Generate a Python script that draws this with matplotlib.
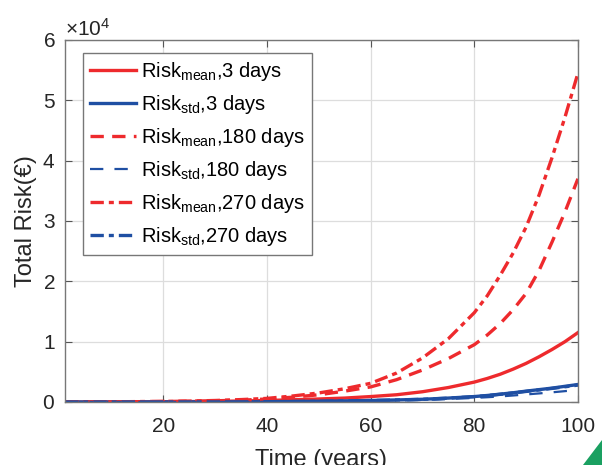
""" Total risk over time """

import matplotlib

matplotlib.use("Agg")
import matplotlib.pyplot as plt
from matplotlib.patches import Polygon
from matplotlib.ticker import ScalarFormatter

plt.rcParams["font.family"] = ["Liberation Sans", "DejaVu Sans"]
plt.rcParams["mathtext.fontset"] = "custom"
plt.rcParams["mathtext.rm"] = "Liberation Sans"
plt.rcParams["mathtext.it"] = "Liberation Sans:italic"

# time in years
years = [1, 10, 20, 25, 30, 35, 40, 45, 50, 55, 60, 65, 70, 75, 80,
         82.5, 85, 87.5, 90, 92.5, 95, 97.5, 100]

# total risk in euros
mean_3 = [0, 10, 50, 70, 100, 170, 250, 370, 500, 650, 900, 1200, 1700, 2400,
          3300, 3900, 4600, 5450, 6400, 7500, 8700, 10000, 11500]
std_3 = [0, 0, 5, 10, 15, 30, 50, 80, 120, 180, 250, 340, 450, 650,
         900, 1080, 1300, 1530, 1800, 2050, 2300, 2600, 2900]
mean_180 = [0, 20, 80, 130, 200, 300, 500, 800, 1200, 1800, 2500, 3700, 5300, 7200,
            9500, 11100, 13000, 15300, 18000, 21800, 26500, 31500, 37000]
std_180 = [0, 0, 3, 6, 10, 20, 35, 55, 85, 130, 180, 250, 330, 480,
           680, 790, 920, 1080, 1250, 1420, 1600, 1800, 2000]
mean_270 = [0, 30, 100, 150, 250, 400, 600, 1000, 1500, 2200, 3100, 4800, 7300, 10500,
            14800, 17600, 21000, 24700, 29000, 34300, 40500, 47200, 54500]
std_270 = [0, 0, 5, 9, 14, 28, 48, 78, 115, 175, 240, 330, 440, 630,
           880, 1060, 1270, 1500, 1750, 2000, 2250, 2520, 2800]

RED = "#EE2A2D"
BLUE = "#1F4FA3"
DASHDOT = (0, (4, 1.5, 1.5, 1.5))

fig = plt.figure(figsize=(6.02, 4.65), dpi=100)
ax = fig.add_axes([0.108, 0.1355, 0.852, 0.7785])

ax.plot(years, mean_3, color=RED, lw=2.4, ls="-",
        label=r"Risk$_{\rm mean}$,3 days")
ax.plot(years, std_3, color=BLUE, lw=2.4, ls="-",
        label=r"Risk$_{\rm std}$,3 days")
ax.plot(years, mean_180, color=RED, lw=2.4, ls=(0, (4, 2.5)),
        label=r"Risk$_{\rm mean}$,180 days")
ax.plot(years, std_180, color=BLUE, lw=1.6, ls=(0, (6, 5)),
        label=r"Risk$_{\rm std}$,180 days")
ax.plot(years, mean_270, color=RED, lw=2.4, ls=DASHDOT,
        label=r"Risk$_{\rm mean}$,270 days")
ax.plot(years, std_270, color=BLUE, lw=2.4, ls=DASHDOT,
        label=r"Risk$_{\rm std}$,270 days")

ax.set_xlim(1, 100)
ax.set_ylim(0, 60000)
ax.set_xticks([20, 40, 60, 80, 100])
ax.set_yticks([0, 10000, 20000, 30000, 40000, 50000, 60000])

fmt = ScalarFormatter(useMathText=True)
fmt.set_powerlimits((0, 0))
ax.yaxis.set_major_formatter(fmt)
ax.yaxis.get_offset_text().set_fontsize(15)
ax.yaxis.get_offset_text().set_color("#262626")

ax.grid(True, color="#dddddd", lw=0.9)
ax.tick_params(direction="in", top=True, right=True, labelsize=15,
               color="#555555", labelcolor="#262626", length=5)
ax.tick_params(axis="x", pad=11)
ax.tick_params(axis="y", pad=7)
for sp in ax.spines.values():
    sp.set_color("#777777")
    sp.set_linewidth(1.0)

ax.set_xlabel("Time (years)", fontsize=17, color="#262626", labelpad=9)
ax.set_ylabel("Total Risk(€)", fontsize=17, color="#262626", labelpad=4)

leg = ax.legend(loc="upper left", bbox_to_anchor=(0.035, 0.964), fontsize=14.5,
                fancybox=False, framealpha=1, edgecolor="#777777",
                handlelength=2.3, handletextpad=0.25, labelspacing=0.5,
                borderpad=0.35, borderaxespad=0)
leg.get_frame().set_linewidth(1.0)

fig.patches.append(Polygon([[583 / 602, 0], [1, 25 / 465], [1, 0]],
                           closed=True, transform=fig.transFigure,
                           facecolor="#1AA061", edgecolor="none"))

fig.savefig("out.png", dpi=100)
